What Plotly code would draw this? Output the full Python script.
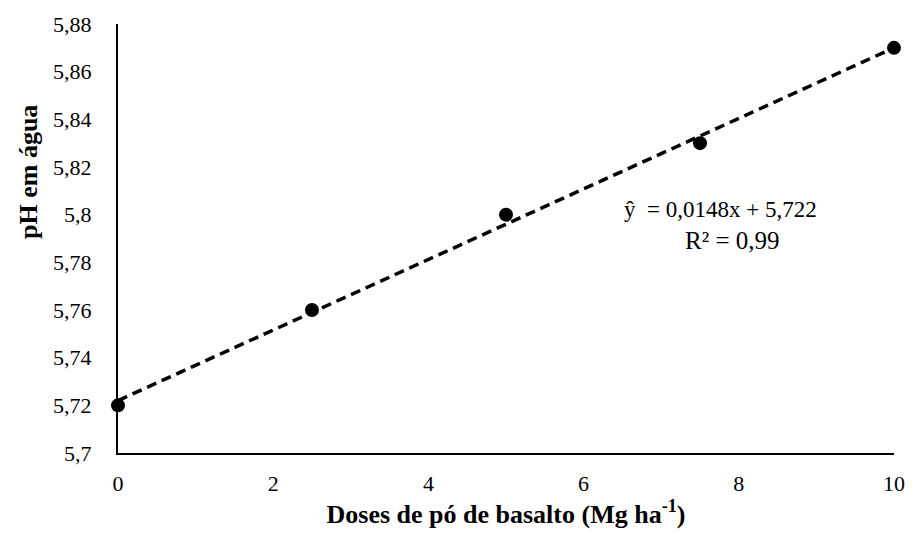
import plotly.graph_objects as go
import numpy as np

doses = [0, 2.5, 5, 7.5, 10]
ph = [5.72, 5.76, 5.80, 5.83, 5.87]
slope = 0.0148
intercept = 5.722
eq_text = "ŷ  = 0,0148x + 5,722"
r2_text = "R² = 0,99"
x_title = "<b>Doses de pó de basalto (Mg ha<sup>-1</sup>)</b>"
y_title = "<b>pH em água</b>"

x_fit = np.array([0, 10])
y_fit = slope * x_fit + intercept

fig = go.Figure()
fig.add_trace(go.Scatter(x=x_fit, y=y_fit, mode="lines",
                         line=dict(color="black", width=3.5, dash="10px,6px"),
                         showlegend=False, hoverinfo="skip"))
fig.add_trace(go.Scatter(x=doses, y=ph, mode="markers",
                         marker=dict(color="black", size=14),
                         showlegend=False, cliponaxis=False))

font = "Liberation Serif"
fig.update_layout(
    width=917, height=533,
    margin=dict(l=118, r=14, t=22, b=79),
    plot_bgcolor="white", paper_bgcolor="white",
    separators=", ",
    font=dict(family=font, size=22, color="black"),
    xaxis=dict(range=[0, 10], tickvals=[0, 2, 4, 6, 8, 10], showgrid=False,
               zeroline=False, showline=True, linecolor="black", linewidth=2,
               ticks="", ticklabelstandoff=10,
               tickfont=dict(family=font, size=22),
               title=dict(text=x_title, font=dict(size=26, family=font), standoff=6)),
    yaxis=dict(range=[5.7, 5.88], tickvals=[5.7, 5.72, 5.74, 5.76, 5.78, 5.8, 5.82, 5.84, 5.86, 5.88],
               showgrid=False, zeroline=False, showline=True, linecolor="black", linewidth=2,
               ticks="", ticklabelstandoff=20,
               tickfont=dict(family=font, size=22)),
)
fig.add_annotation(x=-0.116, y=0.655, xref="paper", yref="paper", text=y_title, textangle=-90,
                   showarrow=False, font=dict(size=26, family=font), xanchor="center", yanchor="middle")
fig.add_annotation(x=0.776, y=0.567, xref="paper", yref="paper", text=eq_text,
                   showarrow=False, font=dict(size=23, family=font), xanchor="center", yanchor="middle")
fig.add_annotation(x=0.792, y=0.495, xref="paper", yref="paper", text=r2_text,
                   showarrow=False, font=dict(size=25, family=font), xanchor="center", yanchor="middle")
fig.write_html("out.html")
